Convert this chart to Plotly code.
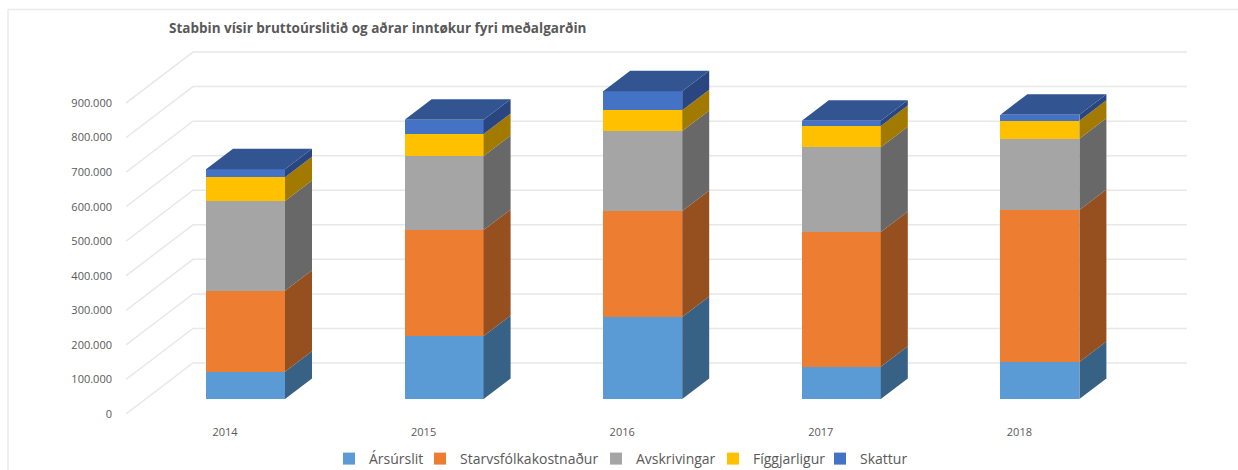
import plotly.graph_objects as go

years = ["2014", "2015", "2016", "2017", "2018"]
arsurslit = [79000, 182000, 237000, 93000, 107000]
starvsfolk = [234000, 307000, 307000, 390000, 440000]
avskrivingar = [260000, 214000, 232000, 246000, 206000]
figgjarligur = [69000, 64000, 60000, 61000, 52000]
skattur = [23000, 41000, 55000, 15000, 18000]
y_ticks = [0, 100000, 200000, 300000, 400000, 500000, 600000, 700000, 800000, 900000]

series_names = ["Ársúrslit", "Starvsfólkakostnaður", "Avskrivingar", "Fíggjarligur", "Skattur"]
series_values = [arsurslit, starvsfolk, avskrivingar, figgjarligur, skattur]
front_colors = ["#5B9BD5", "#ED7D31", "#A5A5A5", "#FFC000", "#4472C4"]
side_colors = ["#386285", "#964F1E", "#686868", "#A27A00", "#2A4680"]
top_color = "#325592"
title_text = "Stabbin vísir bruttoúrslitið og aðrar inntøkur fyri meðalgarðin"
legend_text_px = [369, 460, 636, 753, 860]  # left edge of each legend label

W, H = 1238, 470
# pixel frame of the plot (front plane of the 3D box)
L, R, T, B = 126, 1200, 40, 414
PX_X = 198.6          # px per category
PX_Y = 34.55 / 100000 # px per value unit
X0 = 225              # px of first category in the front plane
dx_wall, dy_wall = 67 / PX_X, 51 / PX_Y       # depth of the floor
dx_bar, dy_bar = 27 / PX_X, 20.5 / PX_Y       # depth of a bar
shift_x, shift_y = 20.5, 15                   # bar plane vs front plane
bar_width = 79 / PX_X

x_range = [(L - X0) / PX_X, (R - X0) / PX_X]
y_range = [0, (B - T) / PX_Y]
x2_range = [x_range[0] - shift_x / PX_X, x_range[1] - shift_x / PX_X]
y2_range = [-shift_y / PX_Y, y_range[1] - shift_y / PX_Y]
wall_right = (1187 - X0) / PX_X

fig = go.Figure()

# grid on floor and back wall
gx, gy = [], []
for v in y_ticks:
    gx += [x_range[0], x_range[0] + dx_wall, wall_right, None]
    gy += [v, v + dy_wall, v + dy_wall, None]
fig.add_trace(go.Scatter(x=gx, y=gy, mode="lines", line=dict(color="#E8E8E8", width=1.5),
                         hoverinfo="skip", showlegend=False, xaxis="x", yaxis="y"))
# front faces, each with its own legend so the labels can be spaced as in the reference
legend_ids = ["legend", "legend2", "legend3", "legend4", "legend5"]
for name, vals, col, lg in zip(series_names, series_values, front_colors, legend_ids):
    fig.add_trace(go.Bar(x=list(range(len(years))), y=vals, name=name, width=bar_width,
                         marker=dict(color=col, line=dict(width=0)), legend=lg,
                         xaxis="x2", yaxis="y2"))
# side faces
base = [0] * len(years)
for vals, col in zip(series_values, side_colors):
    sx, sy = [], []
    for i, (b, v) in enumerate(zip(base, vals)):
        xr = i + bar_width / 2
        sx += [xr, xr + dx_bar, xr + dx_bar, xr, xr, None]
        sy += [b, b + dy_bar, b + v + dy_bar, b + v, b, None]
    fig.add_trace(go.Scatter(x=sx, y=sy, mode="lines", fill="toself", fillcolor=col,
                             line=dict(width=0, color=col), hoverinfo="skip", showlegend=False,
                             xaxis="x2", yaxis="y2"))
    base = [b + v for b, v in zip(base, vals)]
# top faces
tx, ty = [], []
for i, b in enumerate(base):
    xl, xr = i - bar_width / 2, i + bar_width / 2
    tx += [xl, xr, xr + dx_bar, xl + dx_bar, xl, None]
    ty += [b, b, b + dy_bar, b + dy_bar, b, None]
fig.add_trace(go.Scatter(x=tx, y=ty, mode="lines", fill="toself", fillcolor=top_color,
                         line=dict(width=0, color=top_color), hoverinfo="skip", showlegend=False,
                         xaxis="x2", yaxis="y2"))

dom_x = [L / W, R / W]
dom_y = [1 - B / H, 1 - T / H]
tick_font = dict(family="Open Sans, sans-serif", size=11, color="#595959")
fig.update_layout(
    width=W, height=H, margin=dict(l=0, r=0, t=0, b=0, autoexpand=False),
    paper_bgcolor="white", plot_bgcolor="rgba(0,0,0,0)",
    barmode="stack", separators=",.",
    xaxis=dict(domain=dom_x, range=x_range, tickmode="array", tickvals=list(range(len(years))),
               ticktext=years, showgrid=False, zeroline=False, showline=False, ticks="",
               tickfont=tick_font, ticklabelstandoff=10),
    yaxis=dict(domain=dom_y, range=y_range, tickmode="array", tickvals=y_ticks, tickformat=",d",
               showgrid=False, zeroline=False, showline=False, ticks="",
               tickfont=tick_font, ticklabelstandoff=13),
    xaxis2=dict(domain=dom_x, range=x2_range, overlaying="x", anchor="y2", visible=False),
    yaxis2=dict(domain=dom_y, range=y2_range, overlaying="y", anchor="x2", visible=False),
    title=dict(text="<b>" + title_text + "</b>", x=169 / W, xanchor="left", y=1 - 28 / H, yanchor="middle",
               font=dict(family="Open Sans, sans-serif", size=13.5, color="#595959")),
    shapes=[
        dict(type="line", xref="paper", yref="paper", x0=8 / W, x1=1, y0=1 - 9.5 / H, y1=1 - 9.5 / H,
             line=dict(color="#EBEBEB", width=1.5), layer="below"),
        dict(type="line", xref="paper", yref="paper", x0=8 / W, x1=8 / W, y0=0, y1=1 - 9.5 / H,
             line=dict(color="#EBEBEB", width=1.5), layer="below"),
    ],
)
for lg, px in zip(legend_ids, legend_text_px):
    fig.update_layout({lg: dict(orientation="h", x=(px - 40) / W, xanchor="left", y=1 - 459 / H, yanchor="middle",
                                font=dict(family="Open Sans, sans-serif", size=14, color="#595959"),
                                bgcolor="rgba(0,0,0,0)", itemclick=False)})
fig.write_html("out.html", config={"displayModeBar": False}, post_script="document.body.style.margin='0';")
